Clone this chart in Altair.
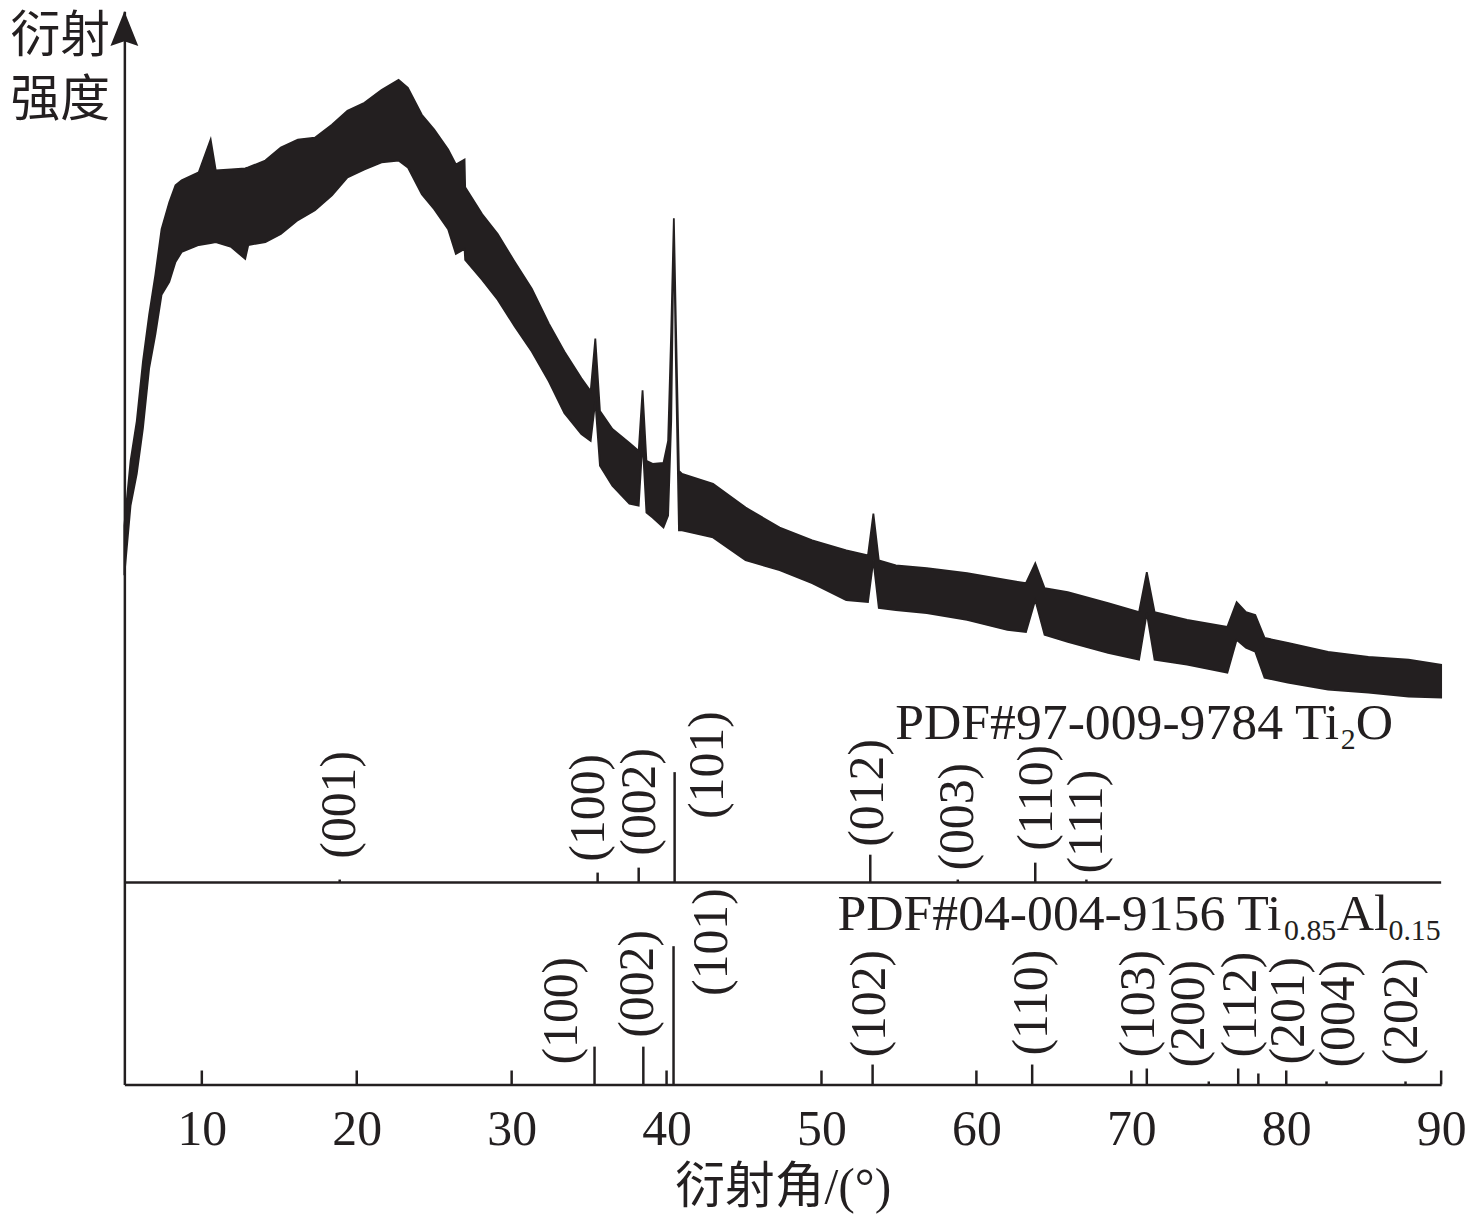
import altair as alt
import pandas as pd

# ---- XRD pattern: upper / lower envelope of the noisy trace (a.u.) ----
two_theta = [5.0, 5.4, 5.8, 6.2, 6.6, 7.0, 7.4, 7.9, 8.3, 8.7, 9.8, 10.57, 10.9, 11.9, 12.8, 13.0, 14.1,
             15.1, 16.2, 17.3, 18.4, 19.4, 20.5, 21.6, 22.7, 23.3, 24.2, 25.0, 25.9, 26.4, 26.96, 27.0,
             28.1, 29.1, 30.2, 31.3, 32.4, 33.4, 34.5, 35.1, 35.4, 35.7, 36.5, 37.6, 38.2,
             38.45, 38.7, 39.1, 39.8, 40.1, 40.3, 40.47, 40.6, 40.8, 41.0, 43.0, 45.1, 47.3,
             49.4, 51.6, 53.0, 53.35, 53.7, 54.8, 56.8, 59.4, 62.0, 63.2, 63.8, 64.4, 65.9,
             68.5, 70.5, 71.0, 71.5, 73.6, 76.2, 76.8, 77.4, 78.0, 78.6, 80.1, 82.7, 85.3,
             87.9, 90.0]
upper = [562, 627, 667, 727, 774, 814, 860, 887, 904, 909, 917, 950, 919, 920, 921, 922, 929,
         942, 950, 952, 965, 979, 987, 1000, 1010, 1002, 975, 960, 940, 925, 930, 902,
         875, 855, 827, 800, 765, 737, 710, 697, 750, 677, 659, 645, 637,
         698, 627, 624, 625, 647, 757, 871, 767, 617, 614, 604, 580, 560,
         547, 537, 532, 574, 527, 522, 519, 514, 507, 504, 524, 499, 495,
         484, 475, 515, 475, 467, 460, 485, 475, 472, 449, 444, 435, 430,
         427, 422]
lower = [512, 582, 614, 660, 720, 754, 794, 807, 827, 837, 844, 846, 847, 842, 830, 844, 847,
         855, 869, 879, 894, 912, 920, 927, 929, 922, 895, 880, 860, 835, 840, 829,
         809, 789, 762, 737, 707, 675, 654, 647, 687, 622, 602, 584, 582,
         647, 575, 570, 560, 572, 667, 861, 727, 557, 557, 550, 527, 517,
         504, 487, 485, 527, 479, 477, 474, 467, 457, 455, 487, 452, 445,
         434, 427, 474, 427, 422, 414, 447, 439, 435, 409, 404, 397, 394,
         390, 389]

# ---- reference patterns ----
ti2o_base = 203
ti2o_pos = [18.9, 35.55, 38.2, 40.52, 53.15, 58.8, 63.8, 67.1]
ti2o_h = [3, 10, 15, 111, 28, 3, 20, 3]
ti2o_hkl = ["(001)", "(100)", "(002)", "(101)", "(012)", "(003)", "(110)", "(111)"]
ti2o_lab_x = [18.93, 34.98, 38.26, 42.69, 52.99, 58.80, 63.94, 67.15]
ti2o_lab_y = [227, 224, 230, 267, 239, 215, 235, 212]

tial_pos = [35.35, 38.5, 40.45, 53.3, 63.6, 71.0, 75.0, 76.9, 78.2, 82.6, 87.7]
tial_h = [38, 38, 139, 20, 20, 16, 3, 16, 11, 3, 3]
tial_hkl = ["(100)", "(002)", "(101)", "(102)", "(110)", "(103)", "(200)", "(112)",
            "(201)", "(004)", "(202)"]
tial_lab_x = [33.25, 38.16, 42.94, 53.15, 63.62, 70.49, 73.76, 77.10, 80.18, 83.39, 87.50]
tial_lab_y = [20, 47, 89, 27, 29, 27, 17, 27, 20, 17, 19]

# phase titles: pieces of text (main / subscript)
pdf_text = ["PDF#97-009-9784 Ti", "2", "O", "PDF#04-004-9156 Ti", "0.85", "Al", "0.15"]
pdf_x = [54.76, 83.52, 84.48, 51.03, 79.86, 83.26, 86.60]
pdf_y = [347, 337, 347, 155, 145, 155, 145]
pdf_fs = [52, 30, 52, 52, 30, 52, 30]

x_ticks = [10, 20, 30, 40, 50, 60, 70, 80, 90]
tick_len = 14

INK = "#231f20"
SERIF = "Liberation Serif, Noto Sans CJK SC"

X = alt.Scale(domain=[5, 90], nice=False, zero=False)
Y = alt.Scale(domain=[0, 1079], nice=False, zero=False)

xrd = pd.DataFrame({"t": two_theta, "up": upper, "lo": lower})
top = pd.DataFrame({"p": ti2o_pos, "b": ti2o_base, "h": [ti2o_base + h for h in ti2o_h]})
bot = pd.DataFrame({"p": tial_pos, "b": 0, "h": tial_h})
labs = pd.DataFrame({"x": ti2o_lab_x + tial_lab_x, "y": ti2o_lab_y + tial_lab_y,
                     "t": ti2o_hkl + tial_hkl})
pdf = pd.DataFrame({"x": pdf_x, "y": pdf_y, "t": pdf_text, "fs": pdf_fs})
ticks = pd.DataFrame({"x": x_ticks, "y0": 0, "y1": tick_len})
sep = pd.DataFrame({"x": [5], "x2": [90], "y": [ti2o_base]})

area = alt.Chart(xrd).mark_area(color=INK, stroke=INK, strokeWidth=1.8, opacity=1).encode(
    x=alt.X("t:Q", scale=X, axis=alt.Axis(
        values=x_ticks, ticks=False, tickSize=0, grid=False, labelFlush=False,
        labelFont=SERIF, labelFontSize=50, labelColor=INK, labelPadding=20,
        domainColor=INK, domainWidth=2.5,
        title="衍射角/(°)", titleFont=SERIF, titleFontSize=50, titleFontWeight="normal",
        titleColor=INK, titlePadding=9)),
    y=alt.Y("up:Q", scale=Y, axis=alt.Axis(
        ticks=False, labels=False, grid=False, domainColor=INK, domainWidth=2.5,
        title=["衍射", "强度"], titleAngle=0, titleX=-115, titleY=0, titleAlign="left",
        titleBaseline="top", titleFont=SERIF, titleFontSize=50, titleFontWeight="normal",
        titleColor=INK, titleLineHeight=65)),
    y2="lo:Q",
)

tick_rules = alt.Chart(ticks).mark_rule(color=INK, strokeWidth=2.5).encode(
    x=alt.X("x:Q", scale=X), y=alt.Y("y0:Q", scale=Y), y2="y1:Q")

sep_rule = alt.Chart(sep).mark_rule(color=INK, strokeWidth=2.5).encode(
    x=alt.X("x:Q", scale=X), x2="x2:Q", y=alt.Y("y:Q", scale=Y))

top_sticks = alt.Chart(top).mark_rule(color=INK, strokeWidth=2.5).encode(
    x=alt.X("p:Q", scale=X), y=alt.Y("b:Q", scale=Y), y2="h:Q")

bot_sticks = alt.Chart(bot).mark_rule(color=INK, strokeWidth=2.5).encode(
    x=alt.X("p:Q", scale=X), y=alt.Y("b:Q", scale=Y), y2="h:Q")

hkl = alt.Chart(labs).mark_text(angle=270, align="left", baseline="middle",
                                font="Liberation Serif", fontSize=50, color=INK).encode(
    x=alt.X("x:Q", scale=X), y=alt.Y("y:Q", scale=Y), text="t:N")

pdf_lab = alt.Chart(pdf).mark_text(align="left", baseline="alphabetic",
                                   font="Liberation Serif", color=INK).encode(
    x=alt.X("x:Q", scale=X), y=alt.Y("y:Q", scale=Y), text="t:N",
    size=alt.Size("fs:Q", scale=None, legend=None))

arrow = alt.Chart(pd.DataFrame({"a": [0]})).mark_point(
    shape="M0,-1L0.8,1L0,0.72L-0.8,1Z", size=1225, filled=True, opacity=1,
    color=INK, strokeWidth=0).encode(x=alt.value(0), y=alt.value(17.5))

chart = alt.layer(area, tick_rules, sep_rule, top_sticks, bot_sticks, hkl, pdf_lab, arrow).properties(
    width=1324, height=1079,
    padding={"left": 117, "top": 0, "right": 27, "bottom": 135},
    autosize=alt.AutoSizeParams(type="none"),
    background="white",
).configure_view(strokeWidth=0)

chart.save("out.html", embed_options={"renderer": "svg", "actions": False})
